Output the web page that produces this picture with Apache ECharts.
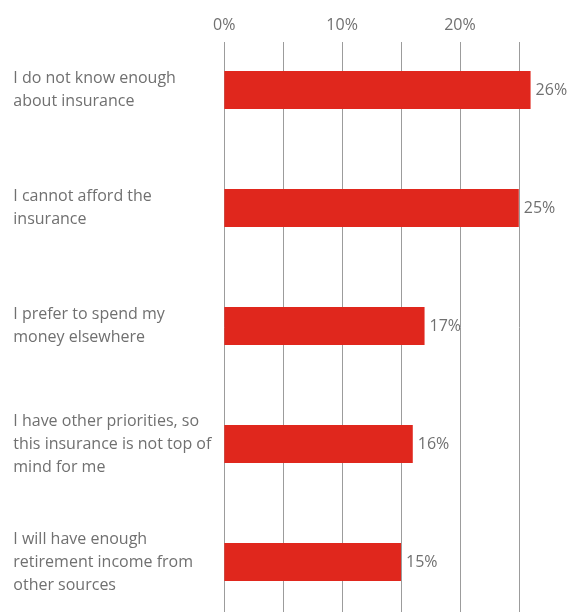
<!DOCTYPE html>
<html>
<head>
<meta charset="utf-8">
<script src="https://cdn.jsdelivr.net/npm/echarts@6/dist/echarts.min.js"></script>
<style>
  html, body { margin: 0; padding: 0; background: #fff; }
  #chart { width: 572px; height: 612px; }
</style>
</head>
<body>
<div id="chart"></div>
<script>
// Reasons given for not holding the insurance (share of respondents, %)
const categories = [
  'I do not know enough\nabout insurance',
  'I cannot afford the\ninsurance',
  'I prefer to spend my\nmoney elsewhere',
  'I have other priorities, so\nthis insurance is not top of\nmind for me',
  'I will have enough\nretirement income from\nother sources'
];
const values = [26, 25, 17, 16, 15];
const tickValues = [0, 10, 20];
const tickLabels = ['0%', '10%', '20%'];

const FONT = '"Open Sans", "Noto Sans", sans-serif';
const TEXT = '#707070';
const RED = '#e0271d';
const LEFT = 224.3;
const PLOT_W = 353.4;   // 0–30 % span, runs past the right edge
const BAR_TOP = 31;
const PLOT_H = 590;     // runs past the bottom edge

const chart = echarts.init(document.getElementById('chart'), null, { renderer: 'canvas' });

chart.setOption({
  animation: false,
  grid: [
    // bars and category labels
    { left: LEFT, top: BAR_TOP, width: PLOT_W, height: PLOT_H, containLabel: false, outerBoundsMode: 'none' },
    // vertical guide lines and percentage scale
    { left: LEFT, top: 42, width: PLOT_W, height: PLOT_H, containLabel: false, outerBoundsMode: 'none' }
  ],
  xAxis: [
    {
      gridIndex: 0, type: 'value', min: 0, max: 30, interval: 5,
      show: false
    },
    {
      gridIndex: 1, type: 'value', min: 0, max: 30, interval: 5,
      position: 'top',
      axisLine: { show: false },
      axisTick: { show: false },
      splitLine: { show: true, lineStyle: { color: '#9c9c9c', width: 1 } },
      axisLabel: {
        margin: 9,
        color: TEXT,
        fontFamily: FONT,
        fontSize: 16,
        formatter: v => {
          const i = tickValues.indexOf(v);
          return i >= 0 ? tickLabels[i] : '';
        }
      }
    }
  ],
  yAxis: [
    {
      gridIndex: 0, type: 'category', inverse: true, data: categories,
      axisLine: { show: false },
      axisTick: { show: false },
      splitLine: { show: false },
      axisLabel: {
        align: 'left',
        margin: 211,
        color: TEXT,
        fontFamily: FONT,
        fontSize: 16,
        lineHeight: 23
      }
    },
    {
      gridIndex: 1, type: 'value', show: false
    }
  ],
  series: [
    {
      type: 'bar',
      xAxisIndex: 0,
      yAxisIndex: 0,
      data: values,
      barWidth: 38,
      itemStyle: { color: RED },
      label: {
        show: true,
        position: 'right',
        distance: 5,
        color: TEXT,
        fontFamily: FONT,
        fontSize: 16,
        formatter: p => p.value + '%'
      }
    }
  ]
});
</script>
</body>
</html>
